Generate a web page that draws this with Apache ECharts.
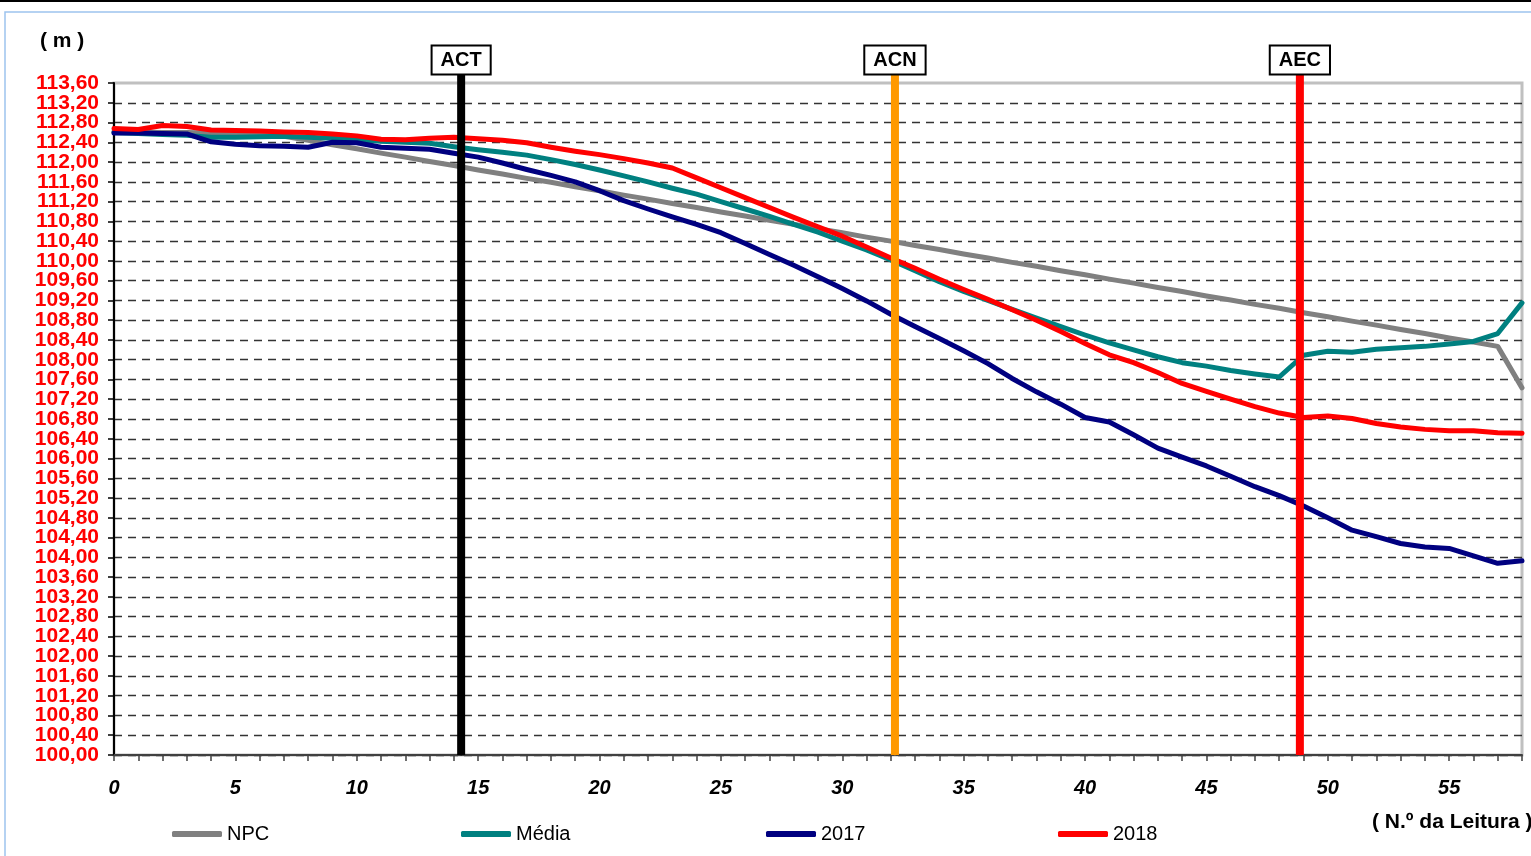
<!DOCTYPE html>
<html>
<head>
<meta charset="utf-8">
<script src="https://cdn.jsdelivr.net/npm/echarts@6/dist/echarts.min.js"></script>
<style>
html,body{margin:0;padding:0;background:#fff;}
#c{width:1531px;height:856px;}
</style>
</head>
<body>
<div id="c"></div>
<script>
// ---- data ----
const seriesNames = ['NPC', 'Média', '2017', '2018'];
const npc = [112.62,112.61,112.60,112.60,112.59,112.58,112.57,112.52,112.44,112.35,
  112.27,112.18,112.10,112.01,111.93,111.84,111.76,111.67,111.59,111.50,
  111.42,111.33,111.25,111.16,111.08,110.99,110.91,110.82,110.74,110.65,
  110.57,110.48,110.40,110.31,110.23,110.14,110.06,109.97,109.89,109.80,
  109.72,109.63,109.55,109.46,109.38,109.29,109.21,109.12,109.04,108.95,
  108.87,108.78,108.70,108.61,108.53,108.44,108.36,108.27,107.43];
const media = [112.60,112.58,112.56,112.54,112.50,112.50,112.51,112.52,112.50,112.48,
  112.45,112.42,112.40,112.38,112.31,112.25,112.20,112.14,112.05,111.95,
  111.84,111.72,111.60,111.47,111.35,111.20,111.05,110.90,110.74,110.58,
  110.40,110.22,110.02,109.80,109.58,109.38,109.20,109.02,108.84,108.67,
  108.50,108.34,108.20,108.06,107.94,107.87,107.78,107.71,107.65,108.09,
  108.17,108.15,108.21,108.24,108.27,108.32,108.37,108.53,109.15];
const y2017 = [112.59,112.59,112.58,112.57,112.41,112.36,112.33,112.32,112.30,112.40,
  112.39,112.30,112.28,112.26,112.18,112.10,111.98,111.85,111.73,111.60,
  111.42,111.22,111.05,110.89,110.74,110.57,110.35,110.13,109.91,109.68,
  109.44,109.19,108.92,108.67,108.43,108.18,107.92,107.62,107.35,107.10,
  106.83,106.74,106.48,106.21,106.03,105.85,105.64,105.43,105.25,105.04,
  104.80,104.55,104.42,104.28,104.21,104.18,104.03,103.88,103.93];
const y2018 = [112.68,112.66,112.74,112.72,112.65,112.64,112.63,112.61,112.60,112.57,
  112.53,112.46,112.45,112.48,112.50,112.47,112.44,112.39,112.30,112.22,
  112.15,112.07,111.98,111.88,111.68,111.48,111.28,111.08,110.88,110.69,
  110.50,110.28,110.06,109.85,109.63,109.42,109.22,109.01,108.80,108.57,
  108.33,108.10,107.94,107.74,107.52,107.36,107.20,107.05,106.92,106.83,
  106.86,106.81,106.71,106.64,106.59,106.56,106.56,106.52,106.51];
const marcoNames = ['ACT', 'ACN', 'AEC'];
const marcoPos = [14.3, 32.17, 48.85];
const yTitle = '( m )';
const xTitle = '( N.º da Leitura )';

// ---- chart ----
const FONT = '"Liberation Sans", Arial, sans-serif';
const lineColors = ['#808080', '#008080', '#000080', '#FF0000'];
const marcoColors = ['#000000', '#FF9900', '#FF0000'];
const allValues = [npc, media, y2017, y2018];
const YMIN = 100, YMAX = 113.6, YSTEP = 0.4;
const markerTop = 113.78;
const fmt = v => v.toFixed(2).replace('.', ',');
const yLabelStyle = { fontFamily: FONT, fontSize: 21, fontWeight: 'bold', color: '#FF0000', margin: 15 };

const splitColors = [];
for (let k = 0; k <= 34; k++) splitColors.push(k === 34 ? 'rgba(0,0,0,0)' : '#333');

const series = seriesNames.map((n, k) => ({
  name: n, type: 'line', symbol: 'none', z: 2 + k, yAxisIndex: 0,
  data: allValues[k].map((v, i) => [i, v]),
  lineStyle: { color: lineColors[k], width: 5, cap: 'round', join: 'round' },
  itemStyle: { color: lineColors[k] }
}));
marcoNames.forEach((n, k) => {
  series.push({
    name: n, type: 'line', clip: false, z: 10, yAxisIndex: 0,
    symbol: 'rect', symbolSize: 1, showSymbol: true,
    lineStyle: { color: marcoColors[k], width: 8 },
    itemStyle: { color: marcoColors[k] },
    data: [
      { value: [marcoPos[k], YMIN], label: { show: false } },
      { value: [marcoPos[k], markerTop], label: {
          show: true, position: 'top', distance: 0, formatter: n,
          fontFamily: FONT, fontWeight: 'bold', fontSize: 20, color: '#000',
          backgroundColor: '#fff', borderColor: '#000', borderWidth: 2,
          padding: [4, 8, 3, 8]
      } }
    ]
  });
});

const legendLeft = [172, 461, 766, 1058];
const chart = echarts.init(document.getElementById('c'), null, { renderer: 'canvas' });
chart.setOption({
  animation: false,
  backgroundColor: '#fff',
  grid: { left: 114, right: 9, top: 83, bottom: 101, show: true, borderColor: '#C0C0C0', borderWidth: 3, backgroundColor: 'transparent' },
  xAxis: {
    type: 'value', min: 0, max: 58, interval: 1,
    axisLine: { show: true, lineStyle: { color: '#404040', width: 2 } },
    axisTick: { show: true, length: 6, lineStyle: { color: '#404040', width: 1.5 } },
    axisLabel: {
      margin: 23, fontFamily: FONT, fontSize: 20, fontWeight: 'bold', fontStyle: 'italic', color: '#000',
      formatter: v => (v % 5 === 0 ? String(v) : '')
    },
    splitLine: { show: false }
  },
  yAxis: [
    {
      type: 'value', min: YMIN, max: YMAX, interval: YSTEP, position: 'left',
      axisLine: { show: true, lineStyle: { color: '#000', width: 2 } },
      axisTick: { show: true, length: 6, lineStyle: { color: '#000', width: 1.5 } },
      axisLabel: Object.assign({}, yLabelStyle, {
        formatter: v => (Math.round((v - YMIN) / YSTEP) % 2 === 1 ? fmt(v) : '')
      }),
      splitLine: { show: true, lineStyle: { color: splitColors, width: 1.3, type: [8, 6] } }
    },
    {
      type: 'value', min: YMIN, max: YMAX, interval: YSTEP * 2, position: 'left', offset: 0,
      axisLine: { show: false }, axisTick: { show: false }, splitLine: { show: false },
      axisLabel: Object.assign({}, yLabelStyle, { showMinLabel: true, showMaxLabel: true, formatter: v => fmt(v) })
    }
  ],
  legend: seriesNames.map((n, k) => ({
    data: [n], left: legendLeft[k], top: 824, padding: 0,
    icon: 'roundRect', itemWidth: 50, itemHeight: 6,
    textStyle: { fontFamily: FONT, fontSize: 20, color: '#000' }
  })),
  graphic: [
    { type: 'line', shape: { x1: 0, y1: 1, x2: 1531, y2: 1 }, style: { stroke: '#000', lineWidth: 2 }, silent: true },
    { type: 'rect', shape: { x: 5, y: 12, width: 1560, height: 870 }, style: { fill: 'none', stroke: '#9DC3EE', lineWidth: 1.5 }, silent: true },
    { type: 'text', left: 40, top: 31, style: { text: yTitle, font: 'bold 21px ' + FONT, fill: '#000' } },
    { type: 'text', left: 1372, top: 812, style: { text: xTitle, font: 'bold 21px ' + FONT, fill: '#000' } }
  ],
  series: series
});
</script>
</body>
</html>
